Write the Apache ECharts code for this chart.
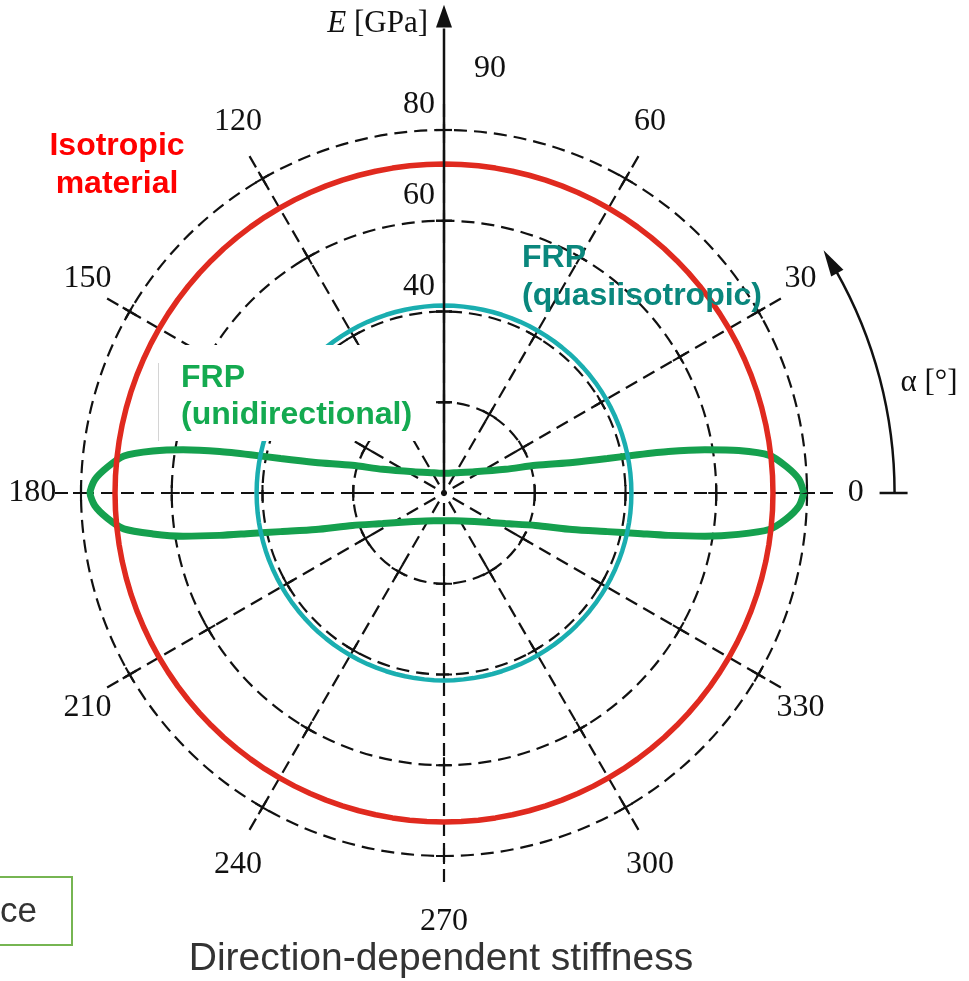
<!DOCTYPE html>
<html><head><meta charset="utf-8">
<script src="https://cdn.jsdelivr.net/npm/echarts@6/dist/echarts.min.js"></script>
<style>html,body{margin:0;padding:0;background:#fff;overflow:hidden}#c{width:969px;height:981px}</style>
</head><body><div id="c"></div>
<script>
// ---------------- data ----------------
const radiusTicks = [20, 40, 60, 80];
const radiusLabelValues = [40, 60, 80];
const radiusLabelTexts = ['40', '60', '80'];
const angleTicks = [0, 30, 60, 90, 120, 150, 180, 210, 240, 270, 300, 330];
const angleLabelTexts = ['0', '30', '60', '90', '120', '150', '180', '210', '240', '270', '300', '330'];

// isotropic material: constant stiffness [GPa]
const isotropicE = 72.5;
// FRP quasi-isotropic: constant stiffness [GPa]
const quasiE = 41.3;
// FRP unidirectional: stiffness [GPa] vs direction alpha [deg]
const udAngle = [0, 2.2, 4.4, 6.6, 8.2, 9.4, 10.5, 11.2, 11.9, 13.4, 16.8, 21.1, 34.7, 63.2, 90,
  116.8, 145.3, 158.9, 163.2, 166.6, 168.1, 168.8, 169.5, 170.6, 171.8, 173.4, 175.6, 177.8, 180,
  182.1, 184.3, 186.4, 188.0, 189.4, 190.7, 191.8, 193.3, 195.9, 199.5, 206.5, 223.1, 249.7, 270,
  290.3, 316.9, 333.5, 340.5, 344.1, 346.7, 348.2, 349.3, 350.6, 352.0, 353.6, 355.7, 357.9, 360];
const udE = [79.3, 78.3, 75.7, 72.2, 65.6, 58.3, 50.3, 43.5, 36.8, 29.1, 21.1, 14.5, 8.2, 5.0, 4.35,
  5.0, 8.2, 14.5, 21.1, 29.1, 36.8, 43.5, 50.3, 58.3, 64.8, 71.0, 74.4, 77.0, 78.0,
  77.0, 74.4, 71.0, 64.8, 58.3, 50.3, 43.6, 37.0, 29.4, 21.4, 15.1, 9.2, 6.5, 6.09,
  6.5, 9.2, 15.1, 21.4, 29.4, 37.0, 43.6, 50.3, 58.3, 65.5, 72.1, 75.7, 78.3, 79.3];

const titleText = 'Direction-dependent stiffness';
const isoLabel = 'Isotropic\nmaterial';
const quasiLabel = 'FRP\n(quasiisotropic)';
const udLabel = 'FRP\n(unidirectional)';
const radiusAxisName = '{i|E} [GPa]';
const angleAxisName = 'α [°]';
const cornerText = 'ce';

// sampling grid for constant-stiffness circles
const sampleAngles = [];
for (let a = 0; a <= 360; a += 3) sampleAngles.push(a);

// ---------------- chart ----------------
const chart = echarts.init(document.getElementById('c'), null, {renderer: 'canvas'});
const dash = [13, 7];
const black = '#111';
const serif = '"Liberation Serif", "DejaVu Serif", serif';
const sans = '"Liberation Sans", Arial, sans-serif';

chart.setOption({
  animation: false,
  backgroundColor: '#fff',
  polar: {center: [444, 493], radius: 363},
  angleAxis: {
    type: 'value', min: 0, max: 360, interval: 30, startAngle: 0, clockwise: false,
    axisLine: {show: false},
    axisTick: {show: true, inside: false, length: 26, lineStyle: {color: black, width: 2.2, type: dash}},
    axisLabel: {show: false},
    splitLine: {show: true, lineStyle: {color: black, width: 2.2, type: dash}}
  },
  radiusAxis: {
    type: 'value', min: 0, max: 80, interval: 20,
    axisLine: {show: false}, axisTick: {show: false}, axisLabel: {show: false},
    splitLine: {show: true, lineStyle: {color: black, width: 2.2, type: dash}}
  },
  series: [
    {
      type: 'scatter', coordinateSystem: 'polar', silent: true, z: 3,
      symbol: 'path://M-1.3,-10 h2.6 v20 h-2.6z M-10,-1.3 h20 v2.6 h-20z',
      symbolSize: 16,
      itemStyle: {color: black, opacity: 1},
      data: radiusTicks.flatMap(r => angleTicks.map(a => ({value: [r, a], symbolRotate: a})))
    },
    {
      type: 'line', coordinateSystem: 'polar', name: 'FRP (unidirectional)', z: 4,
      showSymbol: false, smooth: 0.25,
      lineStyle: {color: '#15A04E', width: 7},
      data: udAngle.map((a, i) => [udE[i], a])
    },
    {
      type: 'line', coordinateSystem: 'polar', name: 'FRP (quasiisotropic)', z: 5,
      showSymbol: false,
      lineStyle: {color: '#1AAEB0', width: 4.5},
      data: sampleAngles.map(a => [quasiE, a])
    },
    {
      type: 'line', coordinateSystem: 'polar', name: 'Isotropic material', z: 6,
      showSymbol: false,
      lineStyle: {color: '#E02A1F', width: 5.5},
      data: sampleAngles.map(a => [isotropicE, a])
    }
  ]
});

// ---------- annotations placed through the polar scales ----------
const P = (r, a) => chart.convertToPixel({seriesIndex: 1}, [r, a]);
const C = P(0, 0);
// point beyond the axis max along angle a at radius r (linear extension of the radius scale)
const Pext = (r, a, kx, ky) => {
  const p = P(80, a);
  kx = kx || 1; ky = ky || 1;
  return [C[0] + (p[0] - C[0]) * r / 80 * kx, C[1] + (p[1] - C[1]) * r / 80 * ky];
};

const g = [];
// white box behind the unidirectional label
g.push({type: 'rect', z: 50, shape: {x: 158, y: 345, width: 280, height: 96}, style: {fill: '#fff'}});
g.push({type: 'line', z: 51, shape: {x1: 158.5, y1: 363, x2: 158.5, y2: 441}, style: {stroke: '#d4d4d4', lineWidth: 1}});

// vertical E axis with arrow
const tip = Pext(107.6, 90), base = Pext(102.6, 90);
g.push({type: 'line', z: 60, shape: {x1: C[0], y1: C[1], x2: base[0], y2: base[1] + 1}, style: {stroke: black, lineWidth: 2.5}});
g.push({type: 'polygon', z: 60, shape: {points: [[tip[0], tip[1]], [base[0] - 8, base[1]], [base[0] + 8, base[1]]]}, style: {fill: black}});
g.push({type: 'text', z: 60, style: {text: radiusAxisName, x: C[0] - 16, y: 24, align: 'right', verticalAlign: 'middle',
  fontFamily: serif, fontSize: 31, fill: black, rich: {i: {fontStyle: 'italic', fontFamily: serif, fontSize: 31, fill: black}}}});
// horizontal ticks on the vertical axis
radiusTicks.forEach(r => {
  const p = P(r, 90);
  g.push({type: 'line', z: 60, shape: {x1: p[0] - 8, y1: p[1], x2: p[0] + 8, y2: p[1]}, style: {stroke: black, lineWidth: 2.2}});
});

// radius labels
radiusLabelValues.forEach((r, i) => {
  const p = P(r, 90);
  g.push({type: 'text', z: 60, style: {text: radiusLabelTexts[i], x: p[0] - 9, y: p[1] - 9, align: 'right', verticalAlign: 'bottom',
    fontFamily: serif, fontSize: 32, fill: black}});
});

// angle labels
angleTicks.forEach((a, i) => {
  let p = Pext(92.6, a, 0.98, 1.02);
  if (a === 90) p = [p[0] + 46, p[1] + 4];
  g.push({type: 'text', z: 60, style: {text: angleLabelTexts[i], x: p[0], y: p[1], align: 'center', verticalAlign: 'middle',
    fontFamily: serif, fontSize: 32, fill: black}});
});

// alpha arc arrow
const arcR = Pext(99.3, 0)[0] - C[0];
const deg = Math.PI / 180;
g.push({type: 'arc', z: 60, shape: {cx: C[0], cy: C[1], r: arcR, startAngle: 0, endAngle: -29.5 * deg, clockwise: false},
  style: {stroke: black, lineWidth: 2.5, fill: null}});
const tipA = 32.6 * deg, baseA = 29.2 * deg;
const tp = [C[0] + arcR * Math.cos(tipA), C[1] - arcR * Math.sin(tipA)];
const bc = [C[0] + arcR * Math.cos(baseA), C[1] - arcR * Math.sin(baseA)];
const rad = [Math.cos(baseA), -Math.sin(baseA)];
g.push({type: 'polygon', z: 60, shape: {points: [tp, [bc[0] + rad[0] * 7, bc[1] + rad[1] * 7], [bc[0] - rad[0] * 7, bc[1] - rad[1] * 7]]}, style: {fill: black}});
g.push({type: 'line', z: 60, shape: {x1: C[0] + arcR - 15, y1: C[1], x2: C[0] + arcR + 13, y2: C[1]}, style: {stroke: black, lineWidth: 2.5}});
g.push({type: 'text', z: 60, style: {text: angleAxisName, x: 929, y: 383, align: 'center', verticalAlign: 'middle', fontFamily: serif, fontSize: 31, fill: black}});

// series labels
g.push({type: 'text', z: 70, style: {text: isoLabel, x: 117, y: 165, align: 'center', verticalAlign: 'middle', lineHeight: 38,
  fontFamily: sans, fontWeight: 'bold', fontSize: 32, fill: '#FF0000'}});
g.push({type: 'text', z: 70, style: {text: quasiLabel, x: 522, y: 277, align: 'left', verticalAlign: 'middle', lineHeight: 38,
  fontFamily: sans, fontWeight: 'bold', fontSize: 32, fill: '#0A877D'}});
g.push({type: 'text', z: 70, style: {text: udLabel, x: 181, y: 397, align: 'left', verticalAlign: 'middle', lineHeight: 37,
  fontFamily: sans, fontWeight: 'bold', fontSize: 32, fill: '#14AA50'}});

// corner box and title
g.push({type: 'rect', z: 70, shape: {x: -6, y: 877, width: 78, height: 68}, style: {fill: '#fff', stroke: '#76B552', lineWidth: 2}});
g.push({type: 'text', z: 71, style: {text: cornerText, x: 0, y: 912, align: 'left', verticalAlign: 'middle', fontFamily: sans, fontSize: 35, fill: '#333'}});
g.push({type: 'text', z: 70, style: {text: titleText, x: 441, y: 959, align: 'center', verticalAlign: 'middle', fontFamily: sans, fontSize: 39, fill: '#333'}});

chart.setOption({graphic: {elements: g}});
</script>
</body></html>
